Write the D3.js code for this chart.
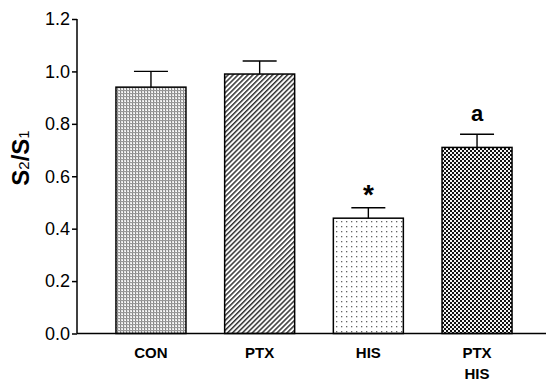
<!DOCTYPE html>
<html>
<head>
<meta charset="utf-8">
<script src="https://cdn.jsdelivr.net/npm/d3@7"></script>
<style>
  html, body { margin: 0; padding: 0; background: #fff; }
  svg { display: block; font-family: "Liberation Sans", Arial, sans-serif; }
</style>
</head>
<body>
<svg id="chart" width="546" height="380"></svg>
<script>
// Group labels (each entry may span two lines)
const categories = [["CON"], ["PTX"], ["HIS"], ["PTX", "HIS"]];
// Mean S2/S1 ratio per group
const means = [0.94, 0.99, 0.44, 0.71];
// Upper error (SEM) per group
const errors = [0.06, 0.05, 0.04, 0.05];
// Significance marks above each bar
const marks = ["", "", "*", "a"];
// Y axis ticks
const yTicks = [0.0, 0.2, 0.4, 0.6, 0.8, 1.0, 1.2];

const svg = d3.select("#chart");
const axisX = 77, axisBottom = 333.5, axisTop = 19;

// Fill patterns for the four groups
const defs = svg.append("defs");
// CON: fine grey grid
const pCon = defs.append("pattern").attr("id", "pCon").attr("patternUnits", "userSpaceOnUse")
  .attr("width", 3).attr("height", 3);
pCon.append("rect").attr("width", 3).attr("height", 3).attr("fill", "#e4e4e4");
pCon.append("rect").attr("width", 1).attr("height", 3).attr("fill", "#888");
pCon.append("rect").attr("width", 3).attr("height", 1).attr("fill", "#999");
pCon.append("rect").attr("x", 2).attr("y", 2).attr("width", 1).attr("height", 1).attr("fill", "#fff");
// PTX: diagonal hatching
const pPtx = defs.append("pattern").attr("id", "pPtx").attr("patternUnits", "userSpaceOnUse")
  .attr("width", 3.5).attr("height", 3.5).attr("patternTransform", "rotate(45)");
pPtx.append("rect").attr("width", 3.5).attr("height", 3.5).attr("fill", "#fff");
pPtx.append("rect").attr("width", 1.5).attr("height", 3.5).attr("fill", "#333");
// HIS: sparse dots
const pHis = defs.append("pattern").attr("id", "pHis").attr("patternUnits", "userSpaceOnUse")
  .attr("width", 5).attr("height", 5);
pHis.append("rect").attr("width", 5).attr("height", 5).attr("fill", "#fff");
pHis.append("rect").attr("x", 1).attr("y", 1).attr("width", 1.3).attr("height", 1.3).attr("fill", "#666");
// PTX+HIS: dense checkerboard
const pBoth = defs.append("pattern").attr("id", "pBoth").attr("patternUnits", "userSpaceOnUse")
  .attr("width", 4).attr("height", 4);
pBoth.append("rect").attr("width", 4).attr("height", 4).attr("fill", "#f4f4f4");
pBoth.append("rect").attr("width", 2).attr("height", 2).attr("fill", "#111");
pBoth.append("rect").attr("x", 2).attr("y", 2).attr("width", 2).attr("height", 2).attr("fill", "#111");
const fills = ["url(#pCon)", "url(#pPtx)", "url(#pHis)", "url(#pBoth)"];

const y = d3.scaleLinear().domain([0, 1.2]).range([axisBottom, axisTop]);
const x = d3.scaleBand().domain(d3.range(categories.length))
  .range([96.4, 531.6]).paddingInner(0.356).paddingOuter(0.18);

// Y axis
const yAxis = svg.append("g").attr("transform", `translate(${axisX},0)`)
  .call(d3.axisLeft(y).tickValues(yTicks).tickFormat(d3.format(".1f")).tickSize(5).tickPadding(2));
yAxis.select(".domain").attr("stroke", "#000").attr("stroke-width", 1.5)
  .attr("d", `M0,${axisTop}V${axisBottom}`);
yAxis.selectAll(".tick line").attr("stroke", "#000").attr("stroke-width", 1.5);
yAxis.selectAll(".tick text").attr("font-size", 18).attr("fill", "#000")
  .attr("font-family", "'Liberation Sans', Arial, sans-serif");

// Bars
const bars = svg.append("g");
bars.selectAll("rect").data(means).join("rect")
  .attr("x", (d, i) => x(i)).attr("width", x.bandwidth())
  .attr("y", d => y(d)).attr("height", d => y(0) - y(d))
  .attr("fill", (d, i) => fills[i]).attr("stroke", "#000").attr("stroke-width", 1.5);

// Error bars (upper only)
const capW = 34;
const err = svg.append("g").attr("stroke", "#000").attr("stroke-width", 1.4);
means.forEach((m, i) => {
  const cx = x(i) + x.bandwidth() / 2;
  err.append("line").attr("x1", cx).attr("x2", cx).attr("y1", y(m)).attr("y2", y(m + errors[i]));
  err.append("line").attr("x1", cx - capW / 2).attr("x2", cx + capW / 2)
    .attr("y1", y(m + errors[i])).attr("y2", y(m + errors[i]));
});

// X axis baseline
svg.append("line").attr("x1", axisX).attr("x2", 546).attr("y1", axisBottom).attr("y2", axisBottom)
  .attr("stroke", "#000").attr("stroke-width", 1.5);

// Category labels
categories.forEach((lines, i) => {
  const cx = x(i) + x.bandwidth() / 2;
  lines.forEach((t, j) => {
    svg.append("text").attr("x", cx).attr("y", 357.5 + j * 21)
      .attr("text-anchor", "middle").attr("font-size", 15).attr("font-weight", "bold").text(t);
  });
});

// Significance marks
marks.forEach((mk, i) => {
  if (!mk) return;
  const cx = x(i) + x.bandwidth() / 2;
  const top = y(means[i] + errors[i]);
  svg.append("text").attr("x", cx).attr("y", mk === "*" ? top - 4 : top - 13)
    .attr("text-anchor", "middle").attr("font-weight", "bold")
    .attr("font-size", mk === "*" ? 28 : 22).text(mk);
});

// Y axis title: S2/S1 with subscripts
const title = svg.append("text").attr("transform", "translate(29,158) rotate(-90)")
  .attr("text-anchor", "middle").attr("font-size", 24).attr("font-weight", "bold");
title.append("tspan").text("S");
title.append("tspan").attr("font-size", 15).attr("font-weight", "normal").text("2");
title.append("tspan").text("/S");
title.append("tspan").attr("font-size", 15).attr("font-weight", "normal").text("1");
</script>
</body>
</html>
